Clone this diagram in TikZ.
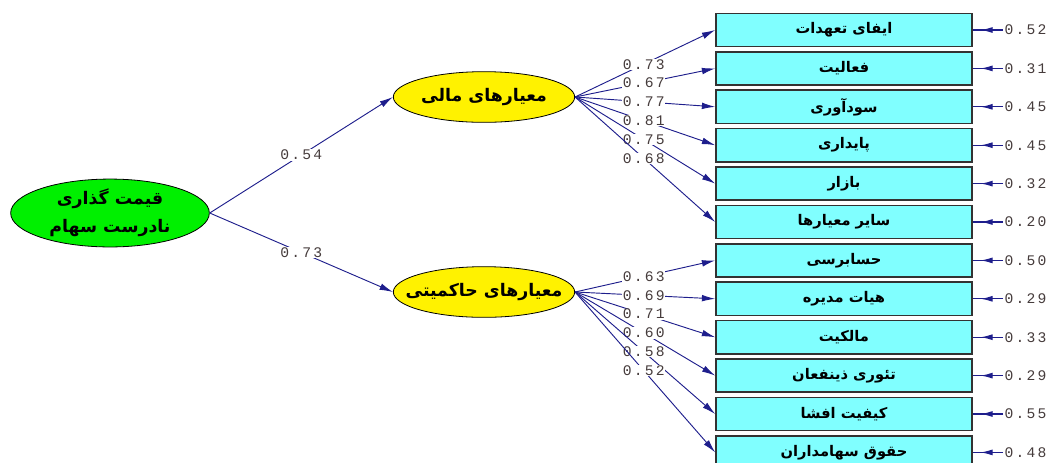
\documentclass[tikz,border=0pt]{standalone}
\usepackage{fontspec}
\usetikzlibrary{shapes.geometric, arrows.meta, decorations.markings}
\TeXXeTstate=1
\newfontfamily\farsifont[Script=Arabic]{DejaVu Sans}
\newfontfamily\numfont[LetterSpace=15]{Liberation Mono}
\definecolor{pathblue}{RGB}{30,30,140}
\definecolor{numgray}{RGB}{70,60,60}
\definecolor{boxcyan}{RGB}{128,255,255}
\definecolor{latgreen}{RGB}{0,240,0}
\newcommand{\fa}[1]{{\farsifont\bfseries\beginR #1\endR}}

\tikzset{
  latent/.style = {ellipse, draw=black, line width=0.6pt, inner sep=0pt},
  indic/.style = {rectangle, draw=black!80, line width=1.2pt, fill=boxcyan,
    minimum width=192pt, minimum height=25pt, font=\fontsize{11}{13}\selectfont},
  coef/.style = {font=\numfont\fontsize{11}{13}\selectfont, text=numgray,
    fill=white, inner sep=0.5pt},
  errval/.style = {font=\numfont\fontsize{11}{13}\selectfont, text=numgray,
    inner sep=1pt, anchor=west},
  path/.style = {pathblue, line width=0.7pt, -{Latex[length=10pt,width=5pt]}},
  errpath/.style = {pathblue, line width=0.9pt, postaction={decorate},
    decoration={markings, mark=at position 0.74 with {\arrow{Latex[length=9pt,width=4.5pt]}}}}
}

\begin{document}
\begin{tikzpicture}[x=0.75pt, y=-0.75pt]
\useasboundingbox (0,0) rectangle (1054,462);

% latent variables
\node[latent, fill=latgreen, minimum width=149pt, minimum height=44pt, align=center,
  font=\fontsize{13}{21}\selectfont] at (110,213) (l0)
  {\fa{قیمت گذاری}\\\fa{نادرست سهام}};
\node[latent, fill=yellow, minimum width=136pt, minimum height=38pt,
  font=\fontsize{13}{15}\selectfont] at (484,97) (l1)
  {\fa{معیارهای مالی}};
\node[latent, fill=yellow, minimum width=136pt, minimum height=38pt, inner xsep=-11pt,
  font=\fontsize{13}{15}\selectfont] at (484,292) (l2)
  {\fa{معیارهای حاکمیتی}};

% indicators
\node[indic] at (844,30) (b1) {\fa{ایفای تعهدات}};
\node[indic] at (844,68.4) (b2) {\fa{فعالیت}};
\node[indic] at (844,106.8) (b3) {\fa{سودآوری}};
\node[indic] at (844,145.2) (b4) {\fa{پایداری}};
\node[indic] at (844,183.6) (b5) {\fa{بازار}};
\node[indic] at (844,222) (b6) {\fa{سایر معیارها}};
\node[indic] at (844,260.4) (b7) {\fa{حسابرسی}};
\node[indic] at (844,298.8) (b8) {\fa{هیات مدیره}};
\node[indic] at (844,337.2) (b9) {\fa{مالکیت}};
\node[indic] at (844,375.6) (b10) {\fa{تئوری ذینفعان}};
\node[indic] at (844,414) (b11) {\fa{کیفیت افشا}};
\node[indic] at (844,452.4) (b12) {\fa{حقوق سهامداران}};

% error terms
\node[errval] at (1003,30) (e1) {0.52};
\node[errval] at (1003,68.4) (e2) {0.31};
\node[errval] at (1003,106.8) (e3) {0.45};
\node[errval] at (1003,145.2) (e4) {0.45};
\node[errval] at (1003,183.6) (e5) {0.32};
\node[errval] at (1003,222) (e6) {0.20};
\node[errval] at (1003,260.4) (e7) {0.50};
\node[errval] at (1003,298.8) (e8) {0.29};
\node[errval] at (1003,337.2) (e9) {0.33};
\node[errval] at (1003,375.6) (e10) {0.29};
\node[errval] at (1003,414) (e11) {0.55};
\node[errval] at (1003,452.4) (e12) {0.48};

% structural paths
\draw[path] (l0.east) -- node[coef] {0.54} (l1.west);
\draw[path] (l0.east) -- node[coef] {0.73} (l2.west);

% loadings
\draw[path] (l1.east) -- node[coef, pos=0.49] {0.73} (b1.west);
\draw[path] (l1.east) -- node[coef, pos=0.49] {0.67} (b2.west);
\draw[path] (l1.east) -- node[coef, pos=0.49] {0.77} (b3.west);
\draw[path] (l1.east) -- node[coef, pos=0.49] {0.81} (b4.west);
\draw[path] (l1.east) -- node[coef, pos=0.49] {0.75} (b5.west);
\draw[path] (l1.east) -- node[coef, pos=0.49] {0.68} (b6.west);
\draw[path] (l2.east) -- node[coef, pos=0.49] {0.63} (b7.west);
\draw[path] (l2.east) -- node[coef, pos=0.49] {0.69} (b8.west);
\draw[path] (l2.east) -- node[coef, pos=0.49] {0.71} (b9.west);
\draw[path] (l2.east) -- node[coef, pos=0.49] {0.60} (b10.west);
\draw[path] (l2.east) -- node[coef, pos=0.49] {0.58} (b11.west);
\draw[path] (l2.east) -- node[coef, pos=0.49] {0.52} (b12.west);

% error arrows
\draw[errpath] (e1) -- (b1.east);
\draw[errpath] (e2) -- (b2.east);
\draw[errpath] (e3) -- (b3.east);
\draw[errpath] (e4) -- (b4.east);
\draw[errpath] (e5) -- (b5.east);
\draw[errpath] (e6) -- (b6.east);
\draw[errpath] (e7) -- (b7.east);
\draw[errpath] (e8) -- (b8.east);
\draw[errpath] (e9) -- (b9.east);
\draw[errpath] (e10) -- (b10.east);
\draw[errpath] (e11) -- (b11.east);
\draw[errpath] (e12) -- (b12.east);
\end{tikzpicture}
\end{document}
